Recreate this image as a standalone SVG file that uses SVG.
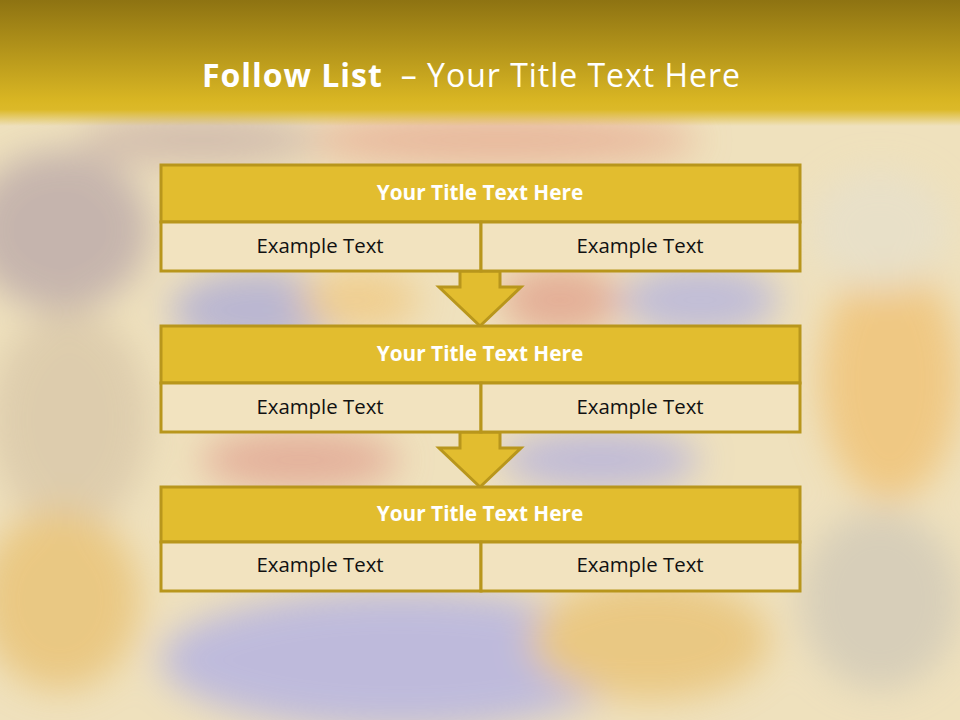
<svg xmlns="http://www.w3.org/2000/svg" width="960" height="720" viewBox="0 0 960 720">
  <defs>
    <linearGradient id="hdr" x1="0" y1="0" x2="0" y2="1">
      <stop offset="0" stop-color="#8e7312"/>
      <stop offset="0.8" stop-color="#d9b623"/>
      <stop offset="0.87" stop-color="#dcb928"/>
      <stop offset="1" stop-color="#dcb928" stop-opacity="0"/>
    </linearGradient>
    <filter id="blur" x="-20%" y="-20%" width="140%" height="140%">
      <feGaussianBlur stdDeviation="18"/>
    </filter>
    <style>
      .ttl { fill: #e2bd2f; stroke: #b8961c; stroke-width: 3; }
      .body { fill: #f2e3bf; stroke: #b8961c; stroke-width: 3; }
      .arrow { fill: #e2bd2f; stroke: #b8961c; stroke-width: 3; stroke-linejoin: miter; }
      .ht { font-family: "Open Sans", "Liberation Sans", sans-serif; font-weight: bold; font-size: 20.8px; fill: #ffffff; text-anchor: middle; }
      .bt { font-family: "Open Sans", "Liberation Sans", sans-serif; font-size: 20.4px; fill: #111111; text-anchor: middle; }
    </style>
  </defs>

  <!-- background texture approximation -->
  <rect x="0" y="0" width="960" height="720" fill="#efe1bd"/>
  <g filter="url(#blur)" opacity="0.75">
    <ellipse cx="60" cy="230" rx="90" ry="80" fill="#b8a6a8"/>
    <ellipse cx="70" cy="420" rx="80" ry="110" fill="#d8c6a8"/>
    <ellipse cx="60" cy="600" rx="80" ry="90" fill="#e8c070"/>
    <ellipse cx="260" cy="310" rx="90" ry="40" fill="#a8a8d8"/>
    <ellipse cx="560" cy="300" rx="60" ry="35" fill="#e09e8a"/>
    <ellipse cx="360" cy="300" rx="60" ry="30" fill="#f0c880"/>
    <ellipse cx="700" cy="300" rx="80" ry="35" fill="#b0b0e0"/>
    <ellipse cx="300" cy="460" rx="100" ry="30" fill="#e0a090"/>
    <ellipse cx="600" cy="460" rx="100" ry="30" fill="#b0aee0"/>
    <ellipse cx="400" cy="660" rx="240" ry="70" fill="#aeaee6"/>
    <ellipse cx="650" cy="640" rx="120" ry="60" fill="#e8c070"/>
    <ellipse cx="890" cy="380" rx="70" ry="120" fill="#f0c070"/>
    <ellipse cx="880" cy="230" rx="70" ry="60" fill="#e6e0cc"/>
    <ellipse cx="880" cy="600" rx="80" ry="90" fill="#cfc8b8"/>
    <ellipse cx="500" cy="140" rx="200" ry="25" fill="#e6a890"/>
    <ellipse cx="200" cy="140" rx="120" ry="25" fill="#c8b0a8"/>
  </g>

  <!-- header band -->
  <rect x="0" y="0" width="960" height="126" fill="url(#hdr)"/>
  <text x="202" y="87" font-family="Open Sans, 'Liberation Sans', sans-serif" font-size="32" fill="#ffffff" textLength="538" lengthAdjust="spacing"><tspan font-weight="bold">Follow List</tspan><tspan dx="18">– Your Title Text Here</tspan></text>

  <!-- connectors -->
  <g id="connectors">
    <polygon class="arrow" points="460,271 500,271 500,287 521,287 480,326 439,287 460,287"/>
    <polygon class="arrow" points="460,432 500,432 500,448 521,448 480,487 439,448 460,448"/>
  </g>

  <g id="node1">
    <rect class="ttl" x="161" y="165" width="639" height="57"/>
    <rect class="body" x="161" y="222" width="320" height="49"/>
    <rect class="body" x="481" y="222" width="319" height="49"/>
    <text class="ht" x="480" y="200">Your Title Text Here</text>
    <text class="bt" x="320" y="253">Example Text</text>
    <text class="bt" x="640" y="253">Example Text</text>
  </g>

  <g id="node2">
    <rect class="ttl" x="161" y="326" width="639" height="57"/>
    <rect class="body" x="161" y="383" width="320" height="49"/>
    <rect class="body" x="481" y="383" width="319" height="49"/>
    <text class="ht" x="480" y="361">Your Title Text Here</text>
    <text class="bt" x="320" y="414">Example Text</text>
    <text class="bt" x="640" y="414">Example Text</text>
  </g>

  <g id="node3">
    <rect class="ttl" x="161" y="487" width="639" height="55"/>
    <rect class="body" x="161" y="542" width="320" height="49"/>
    <rect class="body" x="481" y="542" width="319" height="49"/>
    <text class="ht" x="480" y="521">Your Title Text Here</text>
    <text class="bt" x="320" y="572">Example Text</text>
    <text class="bt" x="640" y="572">Example Text</text>
  </g>
</svg>
